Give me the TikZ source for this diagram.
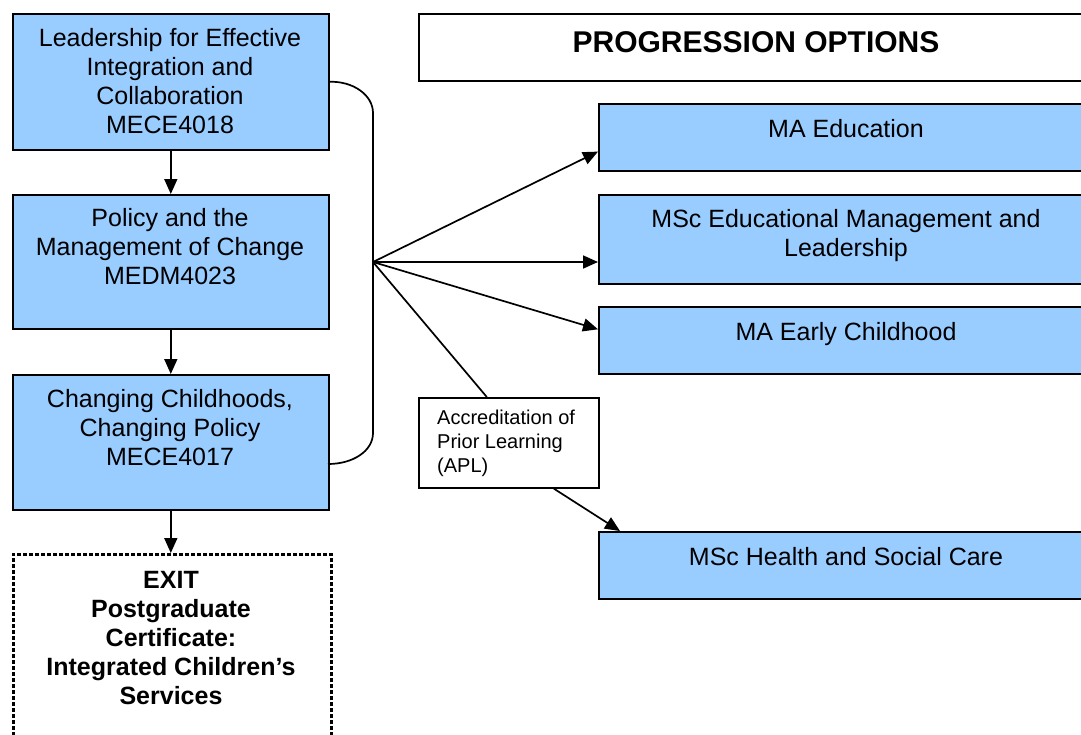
\documentclass[tikz,border=0pt]{standalone}
\usepackage{fontspec}
\setmainfont{Liberation Sans}
\usetikzlibrary{arrows.meta}
\definecolor{boxblue}{HTML}{99CCFF}
\newcommand\cellstack[1]{\begin{tabular}[t]{@{}c@{}}#1\end{tabular}}
\newcommand\leftstack[1]{\begin{tabular}[t]{@{}l@{}}#1\end{tabular}}
\begin{document}
\begin{tikzpicture}[x=1pt,y=-1pt,
  bluebox/.style={draw=black, line width=1.6pt, fill=boxblue, anchor=north west, inner sep=0pt},
  plainbox/.style={draw=black, line width=1.6pt, fill=white, anchor=north west, inner sep=0pt},
  exitbox/.style={draw=black, line width=2.8pt, dash pattern=on 4pt off 2pt, fill=white, anchor=north west, inner sep=0pt},
  maintext/.style={anchor=base, inner sep=0pt, font=\fontsize{25}{29}\selectfont},
  boldtext/.style={anchor=base, inner sep=0pt, font=\fontsize{25}{29}\selectfont\bfseries},
  titletext/.style={anchor=base, inner sep=0pt, font=\fontsize{30}{34}\selectfont\bfseries},
  smalltext/.style={anchor=base west, inner sep=0pt, font=\fontsize{20}{24}\selectfont},
  conn/.style={line width=1.7pt, -{Triangle[length=15pt,width=13pt]}},
  plainline/.style={line width=1.7pt}]
\fill[white] (0,0) rectangle (1081,734);
\useasboundingbox (0,0) rectangle (1081,734);
\clip (0,0) rectangle (1081,734);

% left column
\node[bluebox, minimum width=316pt, minimum height=136pt] (b1) at (12,13) {};
\node[bluebox, minimum width=316pt, minimum height=134pt] (b2) at (12,194) {};
\node[bluebox, minimum width=316pt, minimum height=135pt] (b3) at (12,374) {};
\node[exitbox, minimum width=318pt, minimum height=182pt] (exit) at (12,553) {};

\node[maintext] (t1) at (170,46) {\cellstack{Leadership for Effective\\Integration and\\Collaboration\\MECE4018}};
\node[maintext] (t2) at (170,226) {\cellstack{Policy and the\\Management of Change\\MEDM4023}};
\node[maintext] (t3) at (170,407) {\cellstack{Changing Childhoods,\\Changing Policy\\MECE4017}};
\node[boldtext] (texit) at (171,588) {\cellstack{EXIT\\Postgraduate\\Certificate:\\Integrated Children’s\\Services}};

% right column
\node[plainbox, minimum width=675pt, minimum height=67pt] (title) at (418,13) {};
\node[bluebox, minimum width=496pt, minimum height=67pt] (ma) at (598,103) {};
\node[bluebox, minimum width=496pt, minimum height=89pt] (msc) at (598,194) {};
\node[bluebox, minimum width=496pt, minimum height=67pt] (early) at (598,306) {};
\node[plainbox, minimum width=180pt, minimum height=90pt] (apl) at (418,397) {};
\node[bluebox, minimum width=496pt, minimum height=67pt] (health) at (598,531) {};

\node[titletext] (ttitle) at (756,52) {PROGRESSION OPTIONS};
\node[maintext] (tma) at (846,137) {MA Education};
\node[maintext] (tmsc) at (846,227) {\cellstack{MSc Educational Management and\\Leadership}};
\node[maintext] (tearly) at (846,340) {MA Early Childhood};
\node[smalltext] (tapl) at (437,424) {\leftstack{Accreditation of\\Prior Learning\\(APL)}};
\node[maintext] (thealth) at (846,565) {MSc Health and Social Care};

% vertical arrows
\draw[conn] (b1.south) -- (b2.north);
\draw[conn] (b2.south) -- (b3.north);
\draw[conn] (b3.south) -- (b3.south |- exit.north);

% brace
\coordinate (hub) at (373,262);
\coordinate (bb) at (328,464);
\draw[plainline] (b1.east) .. controls (353,81) and (373,95) .. (373,113) -- (373,433) .. controls (373,451) and (353,464) .. (bb);

% fan arrows
\draw[conn] (hub) -- ([yshift=20pt]ma.south west);
\draw[conn] (hub) -- (hub -| msc.west);
\draw[conn] (hub) -- ([yshift=11pt]early.west);
\draw[plainline] (hub) -- ([xshift=-22pt]apl.north);
\draw[conn] ([xshift=45pt]apl.south) -- ([xshift=22pt]health.north west);
\end{tikzpicture}
\end{document}
